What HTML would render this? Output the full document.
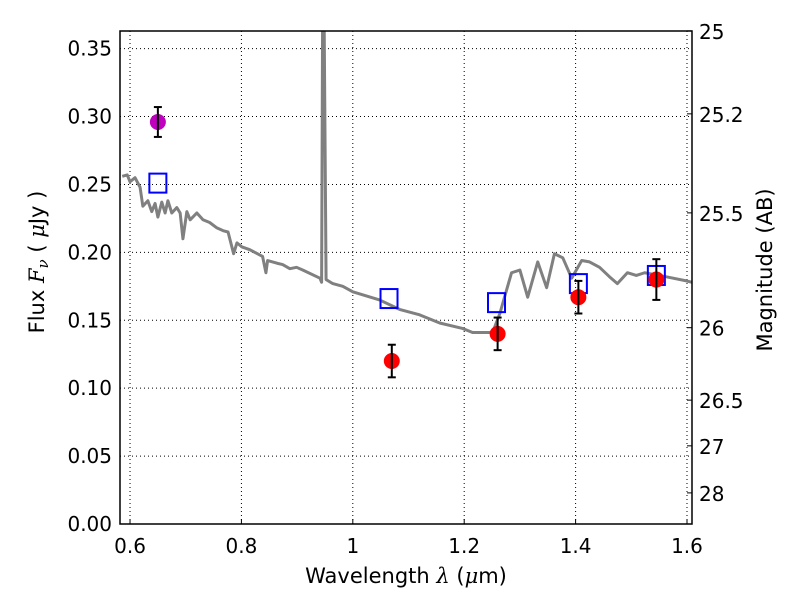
<!DOCTYPE html>
<html><head><meta charset="utf-8">
<style>body{margin:0;background:#fff}svg{display:block;font-family:"DejaVu Sans","Liberation Sans",sans-serif}</style>
</head><body>
<svg id="chart" width="800" height="600" viewBox="0 0 800 600"></svg>
<script>
const specWave=[0.586,0.595,0.600,0.609,0.618,0.623,0.632,0.639,0.645,0.650,0.657,0.663,0.668,0.675,0.684,0.690,0.695,0.702,0.708,0.720,0.731,0.743,0.756,0.767,0.776,0.786,0.792,0.801,0.815,0.838,0.844,0.847,0.864,0.874,0.887,0.899,0.910,0.941,0.944,0.946,0.948,0.952,0.964,0.982,1.000,1.048,1.084,1.120,1.156,1.197,1.215,1.251,1.264,1.285,1.300,1.314,1.332,1.348,1.362,1.377,1.393,1.411,1.425,1.443,1.461,1.475,1.493,1.509,1.524,1.563,1.599,1.609];
const specFlux=[0.256,0.257,0.252,0.255,0.248,0.234,0.238,0.230,0.236,0.226,0.237,0.229,0.238,0.229,0.233,0.229,0.210,0.230,0.224,0.229,0.224,0.222,0.218,0.216,0.215,0.199,0.207,0.204,0.202,0.197,0.185,0.194,0.192,0.191,0.188,0.189,0.187,0.181,0.178,0.40,0.40,0.180,0.177,0.175,0.171,0.165,0.158,0.154,0.148,0.144,0.141,0.141,0.155,0.185,0.187,0.167,0.193,0.174,0.199,0.196,0.181,0.194,0.193,0.189,0.182,0.177,0.185,0.183,0.185,0.182,0.179,0.178];
const modelWave=[0.650,1.065,1.258,1.405,1.545];
const modelFlux=[0.251,0.166,0.163,0.177,0.183];
const obsWave=[1.070,1.260,1.405,1.545];
const obsFlux=[0.120,0.140,0.167,0.180];
const obsErr=[0.012,0.012,0.012,0.015];
const magWave=[0.650];
const magFlux=[0.296];
const magErr=[0.011];
const xTicks=[0.6,0.8,1.0,1.2,1.4,1.6];
const xTickLabels=["0.6","0.8","1","1.2","1.4","1.6"];
const yTicks=[0,0.05,0.10,0.15,0.20,0.25,0.30,0.35];
const yTickLabels=["0.00","0.05","0.10","0.15","0.20","0.25","0.30","0.35"];
const magTicks=[25,25.2,25.5,26,26.5,27,28];
const magTickLabels=["25","25.2","25.5","26","26.5","27","28"];

const L=120,R=692,T=31,B=524,XMIN=0.582,XMAX=1.609,YMIN=0,YMAX=0.363;
const X=v=>L+(v-XMIN)/(XMAX-XMIN)*(R-L);
const Y=v=>B-(v-YMIN)/(YMAX-YMIN)*(B-T);
const svg=document.getElementById('chart');
const NS='http://www.w3.org/2000/svg';
function mk(tag,attrs,parent){const e=document.createElementNS(NS,tag);for(const k in attrs)e.setAttribute(k,attrs[k]);(parent||svg).appendChild(e);return e;}

const defs=mk('defs',{});const cp=mk('clipPath',{id:'clip'},defs);mk('rect',{x:L,y:T,width:R-L,height:B-T},cp);

xTicks.forEach((t,i)=>{
  const g=mk('line',{x1:X(t),x2:X(t),y1:T,y2:B,stroke:'#000','stroke-width':1,'stroke-dasharray':'1,3'});
  
  
  const tk=mk('line',{x1:X(t),x2:X(t),y1:B,y2:B-5,stroke:'#000'});
  
  
  const tx=mk('text',{x:X(t),y:B+29,'font-size':20,'text-anchor':'middle'});tx.textContent=xTickLabels[i];
  
  
});
yTicks.forEach((t,i)=>{
  const g=mk('line',{x1:L,x2:R,y1:Y(t),y2:Y(t),stroke:'#000','stroke-width':1,'stroke-dasharray':'1,3'});
  
  
  const tx=mk('text',{x:L-8,y:Y(t)+7,'font-size':20,'text-anchor':'end'});tx.textContent=yTickLabels[i];
  
  
});
magTicks.forEach((m,i)=>{
  const f=Math.pow(10,(23.9-m)/2.5);
  const tk=mk('line',{x1:R,x2:R-5,y1:Y(f),y2:Y(f),stroke:'#000'});
  
  
  const tx=mk('text',{x:R+7,y:Y(f)+8,'font-size':20});tx.textContent=magTickLabels[i];
  
  
});

const gc=mk('g',{'clip-path':'url(#clip)'});
const sp=mk('polyline',{points:specWave.map((w,i)=>X(w)+','+Y(specFlux[i])).join(' '),fill:'none',stroke:'#808080','stroke-width':3,'stroke-linejoin':'round'},gc);



function errbar(x,y,e,name){
  const g=mk('g',{});
  
  
  mk('line',{x1:X(x),x2:X(x),y1:Y(y-e),y2:Y(y+e),stroke:'#000','stroke-width':2},g);
  mk('line',{x1:X(x)-4,x2:X(x)+4,y1:Y(y-e),y2:Y(y-e),stroke:'#000','stroke-width':2},g);
  mk('line',{x1:X(x)-4,x2:X(x)+4,y1:Y(y+e),y2:Y(y+e),stroke:'#000','stroke-width':2},g);
}
modelWave.forEach((w,i)=>{
  const r=mk('rect',{x:X(w)-8.5,y:Y(modelFlux[i])-9.5,width:17,height:19,fill:'none',stroke:'#0000ff','stroke-width':2});
  
  
});
obsWave.forEach((w,i)=>{
  const c=mk('circle',{cx:X(w),cy:Y(obsFlux[i]),r:8,fill:'#ff0000'});
  
  
  errbar(w,obsFlux[i],obsErr[i],'observed-error-bar');
});
magWave.forEach((w,i)=>{
  const c=mk('circle',{cx:X(w),cy:Y(magFlux[i]),r:8,fill:'#bf00bf'});
  
  
  errbar(w,magFlux[i],magErr[i],'optical-error-bar');
});

const fr=mk('rect',{x:L,y:T,width:R-L,height:B-T,fill:'none',stroke:'#000','stroke-width':1.5});



const xl=mk('text',{x:406,y:583,'font-size':21,'text-anchor':'middle'});
xl.innerHTML='Wavelength  <tspan font-family="DejaVu Serif" font-style="italic">λ</tspan> (<tspan font-family="DejaVu Serif" font-style="italic">μ</tspan>m)';


const yl=mk('text',{x:0,y:0,'font-size':21,'text-anchor':'middle',transform:'translate(44,262) rotate(-90)'});
yl.innerHTML='Flux  <tspan font-family="DejaVu Serif" font-style="italic">F</tspan><tspan font-family="DejaVu Serif" font-style="italic" font-size="15" dy="4">ν</tspan><tspan dy="-4">  (  </tspan><tspan font-family="DejaVu Serif" font-style="italic">μ</tspan>Jy )';


const yr=mk('text',{x:0,y:0,'font-size':21,'text-anchor':'middle',transform:'translate(772,270) rotate(-90)'});
yr.textContent='Magnitude (AB)';


</script>
</body></html>
